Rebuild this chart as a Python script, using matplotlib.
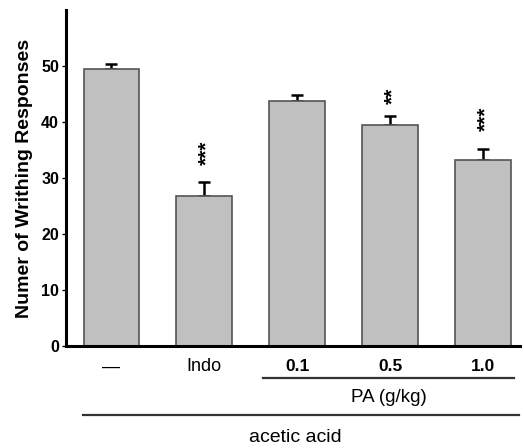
import matplotlib
matplotlib.use("Agg")
import matplotlib.pyplot as plt
import matplotlib.transforms as mtransforms

plt.rcParams['font.family'] = ['Liberation Sans', 'DejaVu Sans']

categories = ["\u2014", "Indo", "0.1", "0.5", "1.0"]
means = [49.5, 26.7, 43.8, 39.5, 33.3]
sems = [0.8, 2.5, 1.0, 1.6, 1.9]
stars = ["", "***", "", "**", "***"]
yticks = [0, 10, 20, 30, 40, 50]

fig = plt.figure(figsize=(5.24, 4.48), dpi=100)
ax = fig.add_axes([66/524, (448-346)/448, (520-66)/524, 336/448])

x = list(range(len(categories)))
ax.bar(x, means, width=0.6, color="#c0c0c0", edgecolor="#555555", linewidth=1.2, zorder=2)
ax.errorbar(x, means, yerr=[[0]*len(sems), sems], fmt="none", ecolor="black",
            elinewidth=1.8, capsize=4, capthick=1.8, zorder=1)

for xi, m, s, st in zip(x, means, sems, stars):
    if st:
        off = 5.3 if st == "***" else 3.6
        ax.text(xi + 0.03, m + s + off, st, rotation=90,
                ha="center", va="center", fontsize=15, fontweight="bold")

ax.set_xlim(-0.49, 4.40)
ax.set_ylim(0, 60)
ax.set_yticks(yticks)
ax.set_yticklabels([str(t) for t in yticks], fontsize=11.5, fontweight="bold")
ax.set_xticks([])
for side in ["top", "right"]:
    ax.spines[side].set_visible(False)
ax.spines["left"].set_linewidth(2.2)
ax.spines["bottom"].set_linewidth(2.2)
ax.tick_params(axis="y", length=3, width=1, pad=2)
ax.set_ylabel("Numer of Writhing Responses", fontsize=14, fontweight="bold", labelpad=6)

trans = mtransforms.blended_transform_factory(ax.transData, ax.transAxes)
for xi, c in zip(x, categories):
    w = "bold" if c[0].isdigit() else "normal"
    ax.text(xi, -0.062, c, transform=trans, ha="center", va="center",
            fontsize=13 if w == "normal" else 12.5, fontweight=w)

ax.plot([1.63, 4.33], [-0.095, -0.095], transform=trans, color="#333333", lw=1.6, clip_on=False)
ax.text(2.99, -0.152, "PA (g/kg)", transform=trans, ha="center", va="center", fontsize=13.5)
ax.plot([-0.31, 4.39], [-0.205, -0.205], transform=trans, color="#333333", lw=1.6, clip_on=False)
ax.text(1.98, -0.271, "acetic acid", transform=trans, ha="center", va="center", fontsize=14)

fig.savefig("out.png", dpi=100)
